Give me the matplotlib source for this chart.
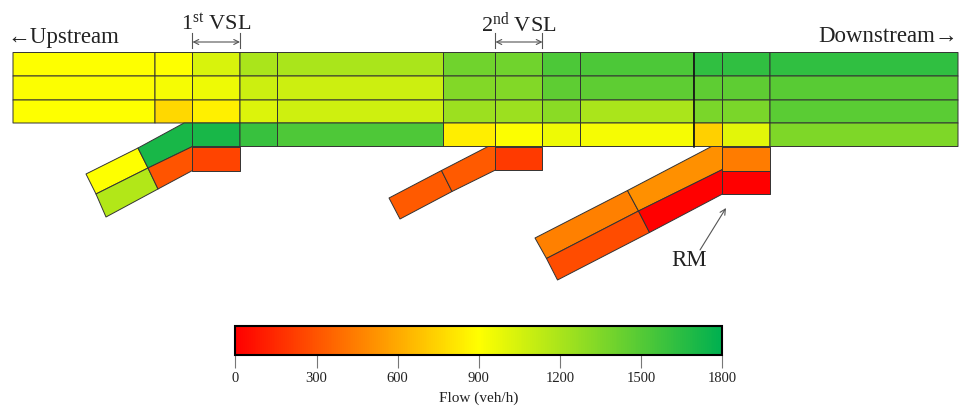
import matplotlib
matplotlib.use("Agg")
import matplotlib.pyplot as plt
import numpy as np
from matplotlib.collections import PolyCollection
from matplotlib.colors import LinearSegmentedColormap, Normalize
from matplotlib.cm import ScalarMappable

plt.rcParams['font.family'] = ['Liberation Serif', 'DejaVu Sans']
plt.rcParams['mathtext.fontset'] = 'custom'
plt.rcParams['mathtext.rm'] = 'Liberation Serif'
plt.rcParams['mathtext.default'] = 'rm'

# flow per cell, veh/h, one list per lane from top to bottom
lane1 = [900, 900, 1035, 1200, 1200, 1400, 1400, 1530, 1530, 1630, 1630, 1630]
lane2 = [910, 930, 960, 1080, 1080, 1340, 1340, 1465, 1465, 1465, 1465, 1485]
lane3 = [905, 765, 850, 1020, 1070, 1250, 1250, 1310, 1200, 1365, 1365, 1480]
lane4 = [np.nan, np.nan, 1710, 1600, 1520, 840, 910, 960, 930, 735, 1005, 1350]

# flow of the ramp pieces and of the added lanes under the mainline
ramp1_flow = [900, 1710, 1170, 300]
ramp2_flow = [318, 318]
ramp3_flow = [450, 510, 270, 0]
added_flow = [240, 205, 440, 0]

cbar_ticks = [0, 300, 600, 900, 1200, 1500, 1800]

# drawing is laid out in image pixels
x_edges = [13, 155, 192.5, 240, 277.5, 443.5, 495.5, 542.5, 580.5, 694, 722.5, 770, 958]
y_edges = [52.5, 76, 100, 123, 146.5]

ramp1_polys = [
    [(86, 174), (138, 148), (148, 168), (96, 194)],
    [(138, 148), (184, 123), (192.5, 123), (192.5, 146.5), (148, 168)],
    [(96, 194), (148, 168), (158, 189), (106, 217)],
    [(148, 168), (192.5, 146.5), (192.5, 170.5), (158, 189)],
]
ramp2_polys = [
    [(389, 198), (441.5, 170.5), (452, 191.5), (400, 219)],
    [(441.5, 170.5), (488, 146.5), (495.5, 146.5), (495.5, 170), (452, 191.5)],
]
ramp3_polys = [
    [(535, 238), (627.5, 190.5), (638.5, 211), (546.5, 258.5)],
    [(627.5, 190.5), (711.5, 146.5), (722.5, 146.5), (722.5, 169.5), (638.5, 211)],
    [(546.5, 258.5), (638.5, 211), (649.5, 232.5), (557.5, 280)],
    [(638.5, 211), (722.5, 169.5), (722.5, 194), (649.5, 232.5)],
]
added_polys = [
    [(192.5, 146.5), (240, 146.5), (240, 170.5), (192.5, 170.5)],
    [(495.5, 146.5), (542.5, 146.5), (542.5, 170), (495.5, 170)],
    [(722.5, 146.5), (770, 146.5), (770, 170.5), (722.5, 170.5)],
    [(722.5, 170.5), (770, 170.5), (770, 194), (722.5, 194)],
]

flow_cmap = LinearSegmentedColormap.from_list("flow", ["#ff0000", "#ffff00", "#00b050"])
norm = Normalize(0, 1800)

fig = plt.figure(figsize=(9.62, 4.08), dpi=100)
ax = fig.add_axes([0, 0, 1, 1])
ax.set_xlim(0, 962)
ax.set_ylim(408, 0)
ax.axis("off")

lanes = np.ma.masked_invalid(np.array([lane1, lane2, lane3, lane4]))
ax.pcolor(x_edges, y_edges, lanes, cmap=flow_cmap, norm=norm,
          edgecolors="#333333", linewidth=0.7)
ax.plot([694, 694], [52.5, 146.5], color="#111111", lw=1.1)

polys = ramp1_polys + ramp2_polys + ramp3_polys + added_polys
poly_flow = ramp1_flow + ramp2_flow + ramp3_flow + added_flow
pc = PolyCollection(polys, array=np.array(poly_flow), cmap=flow_cmap, norm=norm,
                    edgecolors="#333333", linewidths=0.7)
ax.add_collection(pc)

txt = "#222222"
ax.text(7, 37, "←Upstream", fontsize=16.5, color=txt, va="center", ha="left")
ax.text(962 - 4, 37, "Downstream→", fontsize=16.5, color=txt, va="center", ha="right")
ax.text(216.5, 24, "1$^{st}$ VSL", fontsize=16, color=txt, va="center", ha="center")
ax.text(519, 24, "2$^{nd}$ VSL", fontsize=16, color=txt, va="center", ha="center")
ax.text(689, 261, "RM", fontsize=16.5, color=txt, va="center", ha="center")

# VSL brackets and ramp meter arrow
for x0, x1 in [(192.5, 240), (495.5, 542.5)]:
    ax.plot([x0, x0], [33, 48], color="#555555", lw=0.8)
    ax.plot([x1, x1], [33, 48], color="#555555", lw=0.8)
    ax.annotate("", xy=(x1, 42), xytext=(x0, 42),
                arrowprops=dict(arrowstyle="<->", color="#555555", lw=0.8,
                                shrinkA=0, shrinkB=0, mutation_scale=9))
ax.annotate("", xy=(726, 208), xytext=(700, 250),
            arrowprops=dict(arrowstyle="->", color="#555555", lw=0.8,
                            shrinkA=0, shrinkB=0, mutation_scale=10))

# colorbar
cax = fig.add_axes([235.5 / 962, 1 - 355 / 408, (722 - 235.5) / 962, 29 / 408])
cb = fig.colorbar(ScalarMappable(norm=norm, cmap=flow_cmap), cax=cax, orientation="horizontal")
cb.set_ticks(cbar_ticks)
cb.ax.tick_params(length=9, width=0.8, color="#777777", labelsize=10.5, labelcolor=txt, pad=3)
cb.ax.minorticks_off()
cb.outline.set_linewidth(1.5)
cb.outline.set_edgecolor("black")
cb.set_label("Flow (veh/h)", fontsize=11, color=txt, labelpad=5)

fig.savefig("out.png", dpi=100)
